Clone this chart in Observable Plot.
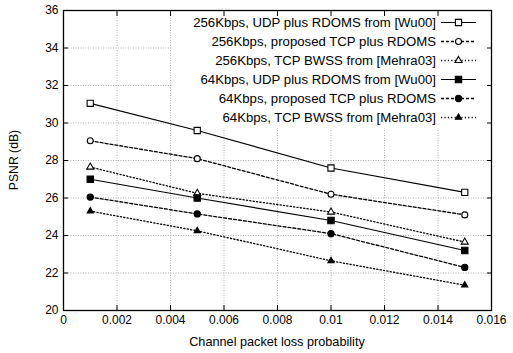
<!DOCTYPE html>
<html><head><meta charset="utf-8">
<script src="https://cdn.jsdelivr.net/npm/d3@7"></script>
<script src="https://cdn.jsdelivr.net/npm/@observablehq/plot@0.6"></script>
<style>body{margin:0;background:#fff}</style>
</head><body><div id="chart"></div>
<script>
const lossProb = [0.001, 0.005, 0.01, 0.015];
const seriesNames = [
  "256Kbps, UDP plus RDOMS from [Wu00]",
  "256Kbps, proposed TCP plus RDOMS",
  "256Kbps, TCP BWSS from [Mehra03]",
  "64Kbps, UDP plus RDOMS from [Wu00]",
  "64Kbps, proposed TCP plus RDOMS",
  "64Kbps, TCP BWSS from [Mehra03]"
];
const udp256 = [31.05, 29.6, 27.6, 26.3];
const tcp256 = [29.05, 28.1, 26.2, 25.1];
const bwss256 = [27.65, 26.25, 25.25, 23.65];
const udp64 = [27.0, 26.0, 24.8, 23.2];
const tcp64 = [26.05, 25.15, 24.1, 22.3];
const bwss64 = [25.3, 24.25, 22.65, 21.35];
const yTicks = [20, 22, 24, 26, 28, 30, 32, 34, 36];
const xTicks = [0, 0.002, 0.004, 0.006, 0.008, 0.01, 0.012, 0.014, 0.016];

const allValues = [udp256, tcp256, bwss256, udp64, tcp64, bwss64];
const styles = [
  {dash: null, symbol: "square", fill: "white", r: 3.5},
  {dash: "3,2", symbol: "circle", fill: "white", r: 3.0},
  {dash: "1.2,2.2", symbol: "triangle", fill: "white", r: 2.6},
  {dash: null, symbol: "square", fill: "black", r: 3.6},
  {dash: "3,2", symbol: "circle", fill: "black", r: 3.1},
  {dash: "1.2,2.2", symbol: "triangle", fill: "black", r: 2.3}
];
const data = [];
allValues.forEach((vals, s) => vals.forEach((v, i) => data.push({series: s, x: lossProb[i], y: v})));

const W = 513, H = 353, ML = 63, MR = 22, MT = 10, MB = 43;
const fmt = d => d === 0 ? "0" : String(+d.toFixed(3));

const marks = [
  Plot.gridX(xTicks.filter(d => d > 0 && d < 0.016), {stroke: "#999", strokeOpacity: 1, strokeDasharray: "1,1.5", strokeWidth: 0.8}),
  Plot.gridY(yTicks.filter(d => d > 20 && d < 36), {stroke: "#999", strokeOpacity: 1, strokeDasharray: "1,1.5", strokeWidth: 0.8}),
  Plot.axisX(xTicks, {anchor: "bottom", tickSize: -5, tickFormat: fmt, tickPadding: 10, label: null}),
  Plot.axisX(xTicks, {anchor: "top", tickSize: -5, tickFormat: () => "", label: null}),
  Plot.axisY(yTicks, {anchor: "left", tickSize: -5, tickFormat: d => String(d), tickPadding: 10, label: null}),
  Plot.axisY(yTicks, {anchor: "right", tickSize: -5, tickFormat: () => "", label: null})
];
styles.forEach((st, s) => {
  const d = data.filter(p => p.series === s);
  marks.push(Plot.line(d, {x: "x", y: "y", stroke: "black", strokeWidth: st.dash ? 1.3 : 1.2, strokeDasharray: st.dash}));
  marks.push(Plot.dot(d, {x: "x", y: "y", symbol: () => st.symbol, r: st.r, stroke: "black", strokeWidth: 1.1, fill: st.fill}));
});
marks.push(Plot.frame({stroke: "black", strokeWidth: 1.3}));

const plot = Plot.plot({
  width: W, height: H,
  marginLeft: ML, marginRight: MR, marginTop: MT, marginBottom: MB,
  style: {fontFamily: "'Liberation Sans', Arial, Helvetica, sans-serif", fontSize: "12px", color: "black", background: "white"},
  x: {domain: [0, 0.016]},
  y: {domain: [20, 36]},
  symbol: {type: "identity"},
  marks
});

const svg = d3.select(plot);
// axis titles
svg.append("text").attr("x", ML + (W - ML - MR) / 2).attr("y", 342).attr("dy", "0.35em")
  .attr("text-anchor", "middle").attr("font-size", 12.7).attr("fill", "black").text("Channel packet loss probability");
svg.append("text").attr("transform", `translate(14,${MT + (H - MT - MB) / 2}) rotate(-90)`).attr("dy", "0.35em")
  .attr("text-anchor", "middle").attr("font-size", 12.2).attr("fill", "black").text("PSNR (dB)");

// legend (gnuplot style key, top right, opaque)
const key = svg.append("g");
const boxLeft = 172, boxRight = W - MR - 1, boxTop = MT + 1, boxBottom = 128;
const gridNodes = plot.querySelectorAll("g[aria-label='x-grid'], g[aria-label='y-grid']");
const bg = document.createElementNS("http://www.w3.org/2000/svg", "rect");
bg.setAttribute("x", boxLeft); bg.setAttribute("y", boxTop);
bg.setAttribute("width", boxRight - boxLeft); bg.setAttribute("height", boxBottom - boxTop);
bg.setAttribute("fill", "white");
const lastGrid = gridNodes[gridNodes.length - 1];
lastGrid.parentNode.insertBefore(bg, lastGrid.nextSibling);

const textRight = 436, lineL = 441, lineR = 476, rowTop = 22.5, rowStep = 19;
const symTypes = {square: d3.symbolSquare, circle: d3.symbolCircle, triangle: d3.symbolTriangle};
seriesNames.forEach((name, i) => {
  const st = styles[i];
  const y = rowTop + i * rowStep;
  key.append("text").attr("x", textRight).attr("y", y).attr("dy", "0.35em")
    .attr("text-anchor", "end").attr("font-size", 13.2).attr("fill", "black").text(name);
  const ln = key.append("line").attr("x1", lineL).attr("x2", lineR).attr("y1", y).attr("y2", y)
    .attr("stroke", "black").attr("stroke-width", st.dash ? 1.3 : 1.2);
  if (st.dash) ln.attr("stroke-dasharray", st.dash);
  key.append("path").attr("d", d3.symbol(symTypes[st.symbol], Math.PI * st.r * st.r)())
    .attr("transform", `translate(${(lineL + lineR) / 2},${y})`)
    .attr("fill", st.fill).attr("stroke", "black").attr("stroke-width", 1.1);
});

document.getElementById("chart").appendChild(plot);
</script>
</body></html>
